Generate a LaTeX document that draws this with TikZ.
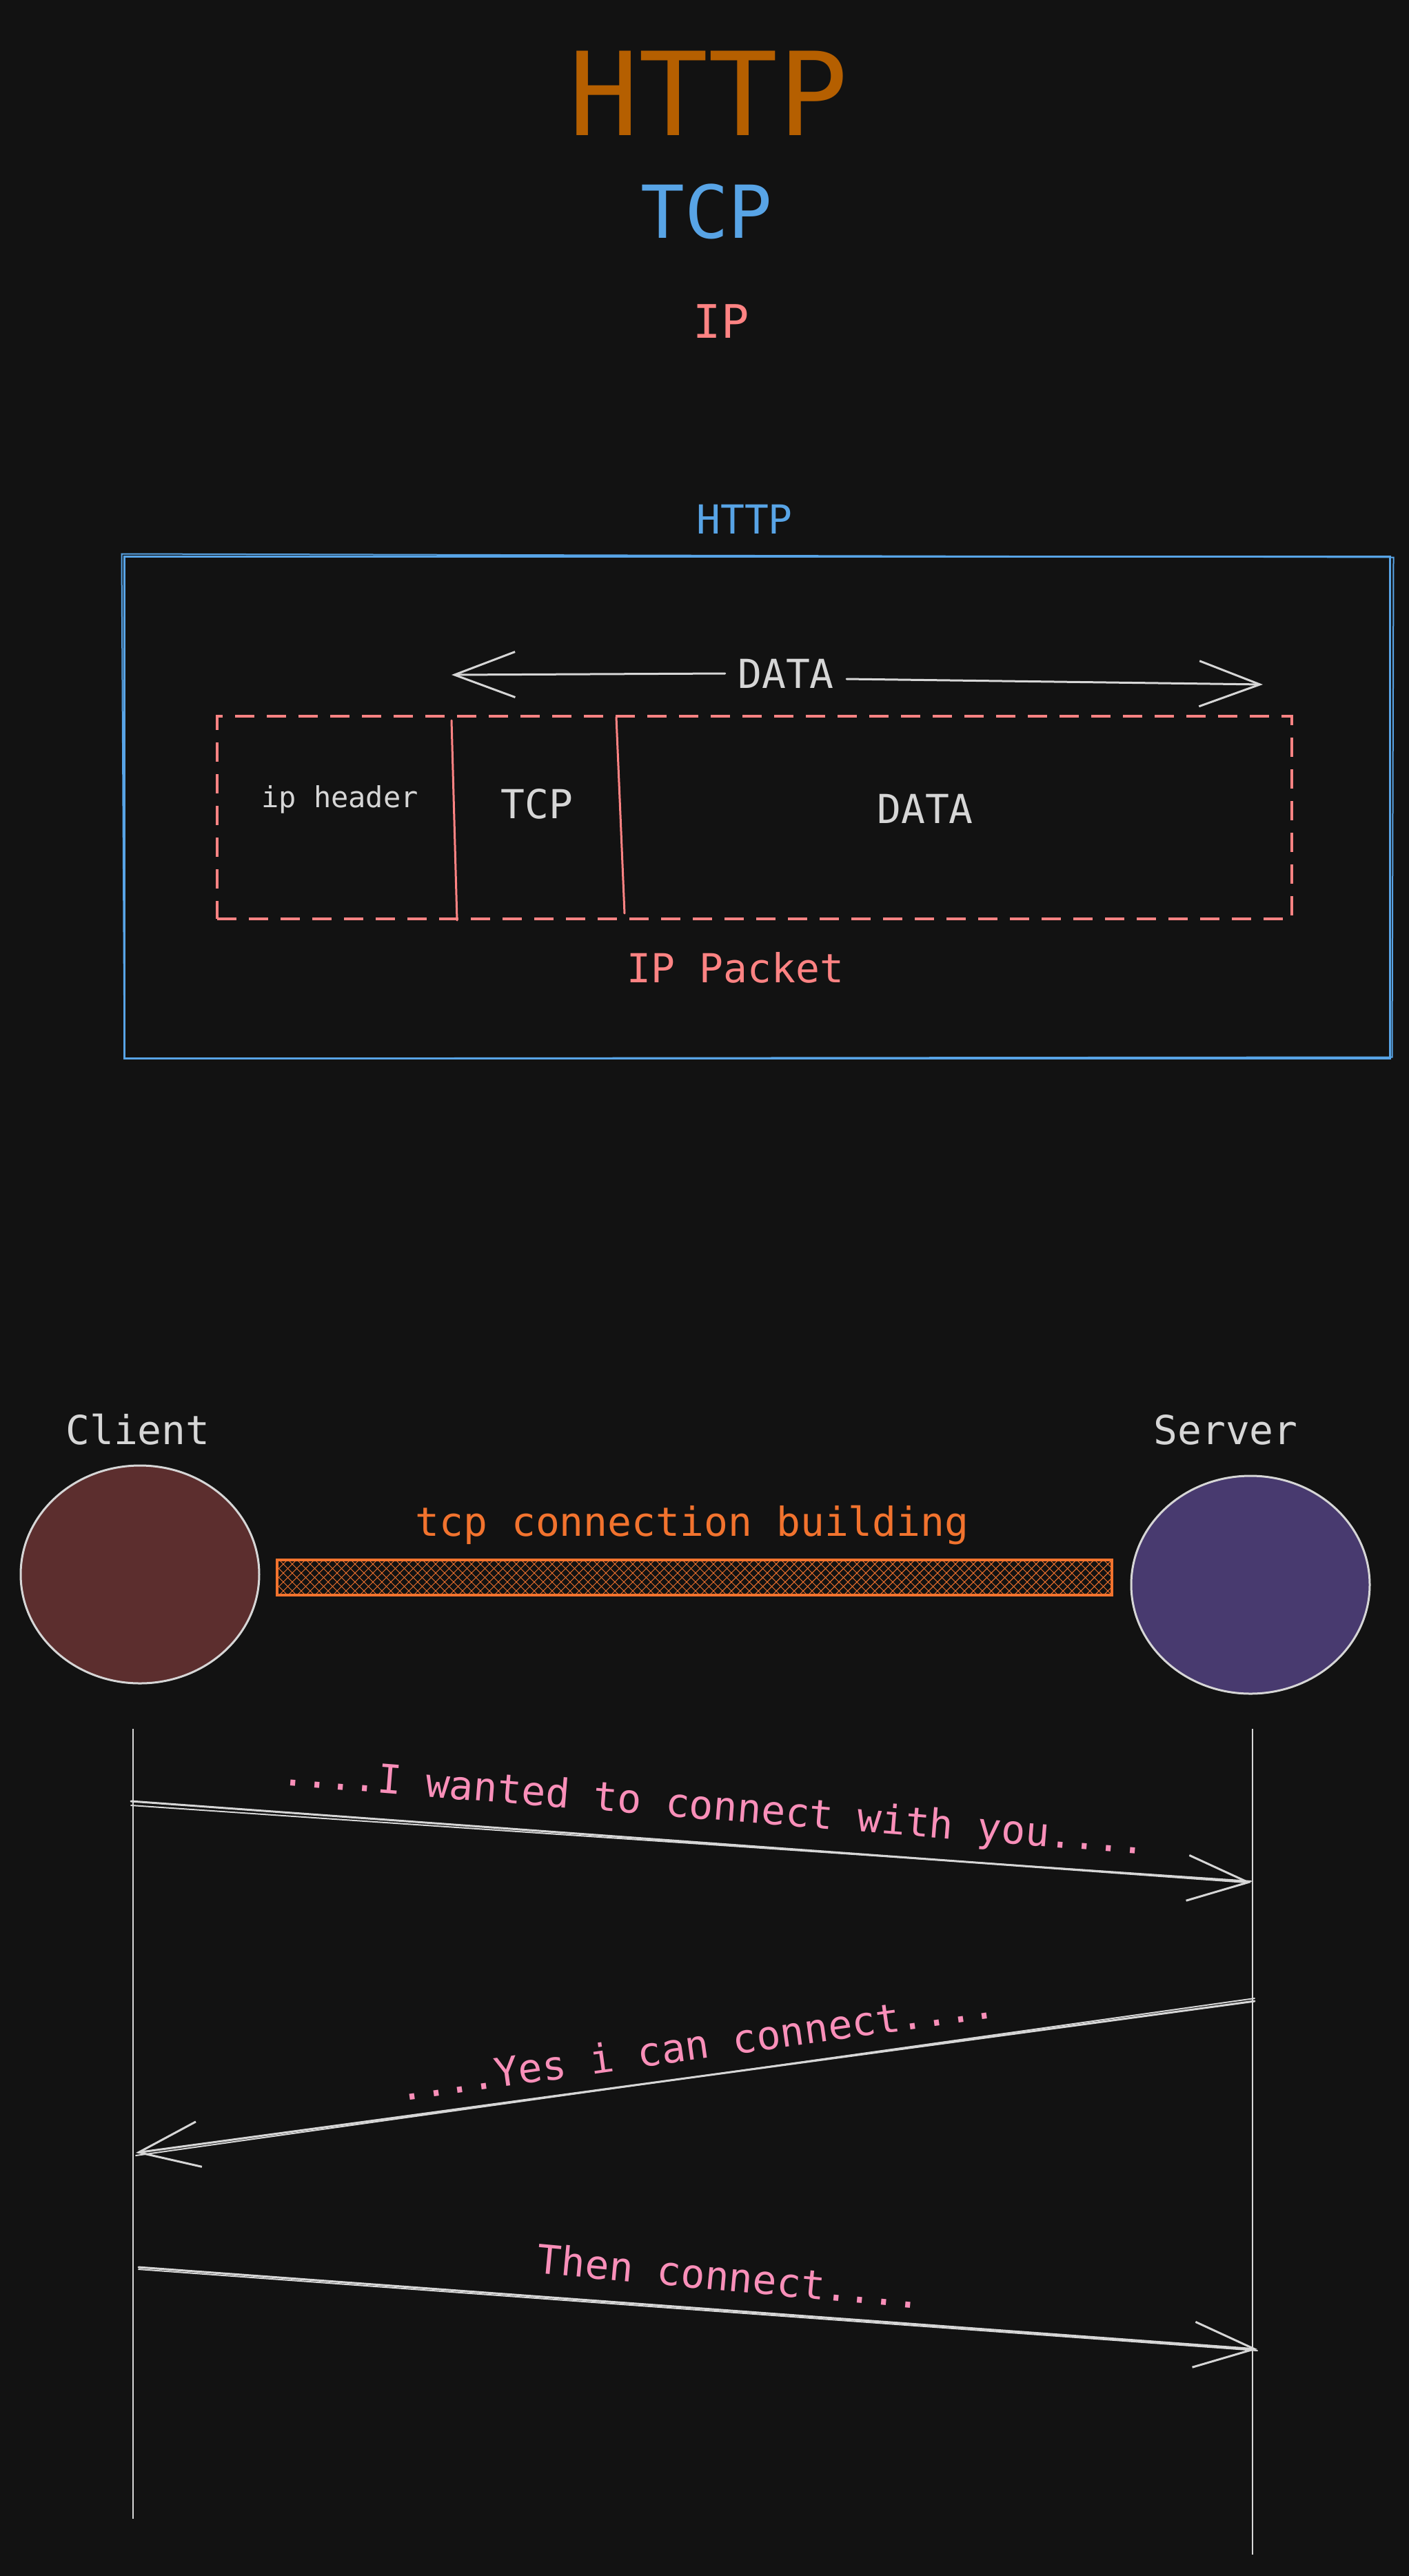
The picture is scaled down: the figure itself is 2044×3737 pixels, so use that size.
\documentclass[tikz,border=0pt]{standalone}
\usepackage{fontspec}
\newfontfamily\dm{DejaVu Sans Mono}
\usetikzlibrary{arrows.meta,shapes.geometric}
\definecolor{bg}{HTML}{121212}
\definecolor{httpor}{HTML}{B55F00}
\definecolor{tcpblue}{HTML}{58A4E6}
\definecolor{ipred}{HTML}{FF8383}
\definecolor{ink}{HTML}{D6D6D6}
\definecolor{pinky}{HTML}{F98FB9}
\definecolor{orng}{HTML}{F2732E}
\definecolor{cfill}{HTML}{5C2E2E}
\definecolor{sfill}{HTML}{483A6F}
\begin{document}
\begin{tikzpicture}[x=1pt,y=-1pt,
  lbl/.style={font=\dm\fontsize{58}{70}\selectfont, inner sep=0pt},
  msg/.style={draw=ink, line width=3pt, line cap=round, -{Straight Barb[length=88pt,width=66pt,line width=3pt]}},
  skline/.style={draw=ink, line width=2pt, line cap=round},
  life/.style={draw=ink, line width=2pt},
  actor/.style={ellipse, draw=ink, line width=3pt, inner sep=0pt, minimum width=346pt, minimum height=316pt},
  divider/.style={draw=ipred, line width=3pt, line cap=round}]
\useasboundingbox[fill=bg] (0,0) rectangle (2044,3737);

% titles
\node[inner sep=0pt, text=httpor, font=\dm\fontsize{168}{200}\selectfont] (t1) at (1028,135) {HTTP};
\node[inner sep=0pt, text=tcpblue, font=\dm\fontsize{106}{120}\selectfont] (t2) at (1025,307) {TCP};
\node[inner sep=0pt, text=ipred, font=\dm\fontsize{67}{80}\selectfont] (t3) at (1046,466) {IP};

% HTTP box
\node[lbl, text=tcpblue] (httplbl) at (1080,753) {HTTP};
\node[draw=tcpblue, line width=3pt, minimum width=1836pt, minimum height=728pt, inner sep=0pt] (httpbox) at (1098,1171) {};
\draw[tcpblue, line width=2pt] ([xshift=-2pt,yshift=2pt]httpbox.north west) -- ([xshift=4pt,yshift=-3pt]httpbox.north east) -- ([xshift=2pt,yshift=3pt]httpbox.south east) -- ([xshift=2pt,yshift=1pt]httpbox.south west) -- cycle;

% IP packet
\node[draw=ipred, line width=4pt, dash pattern=on 28pt off 18pt, minimum width=1559pt, minimum height=294pt, inner sep=0pt] (ippacket) at (1094.5,1186) {};
\coordinate (d1a) at (655,1045); \coordinate (d1b) at (663,1335);
\coordinate (d2a) at (894,1040); \coordinate (d2b) at (906,1325);
\draw[divider] (d1a) -- (d1b);
\draw[divider] (d2a) -- (d2b);
\node[lbl, text=ink, font=\dm\fontsize{42}{50}\selectfont] (iphdr) at (493,1160) {ip header};
\node[lbl, text=ink] (tcpcell) at (779,1166) {TCP};
\node[lbl, text=ink] (datacell) at (1342,1173) {DATA};
\node[lbl, text=ipred] (iplbl) at (1067,1404) {IP Packet};

% DATA arrows
\node[lbl, text=ink, inner xsep=18pt] (datalbl) at (1140,977) {DATA};
\coordinate (dL) at (655,979);
\coordinate (dR) at (1832,993);
\draw[msg] (datalbl.west) -- (dL);
\draw[msg] ([yshift=-8pt]datalbl.east) -- (dR);

% actors
\node[lbl, text=ink] (clientlbl) at (200,2074) {Client};
\node[lbl, text=ink] (serverlbl) at (1778,2074) {Server};
\node[actor, fill=cfill] (client) at (203,2284) {};
\node[actor, fill=sfill] (server) at (1814,2299) {};

% tcp connection bar
\node[lbl, text=orng] (barlbl) at (1004,2213) {tcp connection building};
\node[minimum width=1211pt, minimum height=51pt, inner sep=0pt] (bar) at (1007.5,2288.5) {};
\begin{scope}
\clip (bar.north west) rectangle (bar.south east);
\foreach \x in {340,353,...,1660} {
  \draw[orng, line width=1pt] (\x,2263) -- (\x+51,2314);
  \draw[orng, line width=1pt] (\x+51,2263) -- (\x,2314);
}
\end{scope}
\draw[orng, line width=4pt] (bar.north west) rectangle (bar.south east);

% lifelines
\coordinate (lA) at (193,2508); \coordinate (lB) at (193,3654);
\coordinate (rA) at (1817,2508); \coordinate (rB) at (1817,3706);
\draw[life] (lA) -- (lB);
\draw[life] (rA) -- (rB);

% message 1
\coordinate (m1s) at (190,2613); \coordinate (m1e) at (1815,2731);
\draw[msg] (m1s) -- (m1e);
\draw[skline] ([yshift=-6pt]m1s) -- ([yshift=2pt]m1e);
\node[lbl, text=pinky, rotate=-4.6] (m1lbl) at (1035,2624) {....I wanted to connect with you....};

% message 2
\coordinate (m2s) at (1820,2903); \coordinate (m2e) at (197,3123);
\draw[msg] (m2s) -- (m2e);
\draw[skline] ([yshift=4pt]m2s) -- ([yshift=-4pt]m2e);
\node[lbl, text=pinky, rotate=8.0] (m2lbl) at (1011,2966) {....Yes i can connect....};

% message 3
\coordinate (m3s) at (201,3289); \coordinate (m3e) at (1824,3408);
\draw[msg] (m3s) -- (m3e);
\draw[skline] ([yshift=-3pt]m3s) -- ([yshift=-2pt]m3e);
\node[lbl, text=pinky, rotate=-5.3] (m3lbl) at (1058,3302) {Then connect....};
\end{tikzpicture}
\end{document}
